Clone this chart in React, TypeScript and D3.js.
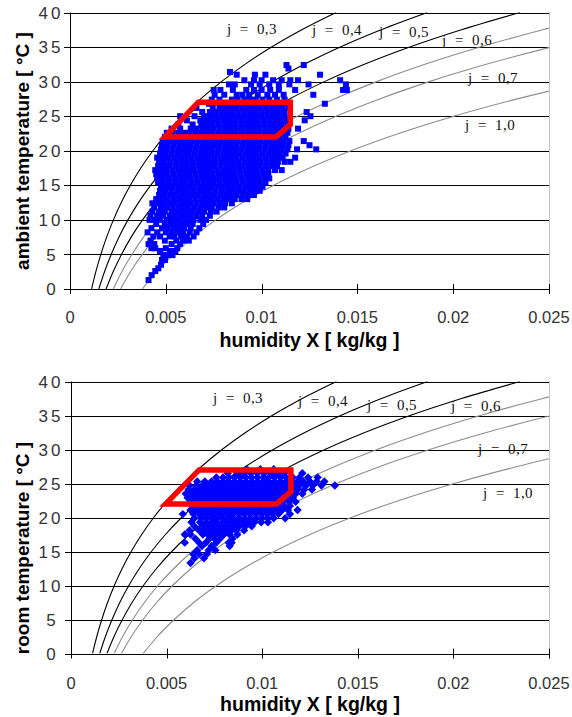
import React from 'react';
import * as d3 from 'd3';

// ---------- data ----------
const xTicks = [0, 0.005, 0.01, 0.015, 0.02, 0.025];
const xTickLabels = ['0', '0.005', '0.01', '0.015', '0.02', '0.025'];
const yTicks = [0, 5, 10, 15, 20, 25, 30, 35, 40];

// relative humidity curves (phi) and their labels
const phiValues = [0.3, 0.4, 0.5, 0.6, 0.7, 1.0];
const phiLabels = ['j  =  0,3', 'j  =  0,4', 'j  =  0,5', 'j  =  0,6', 'j  =  0,7', 'j  =  1,0'];

// saturation vapour pressure of water [Pa] vs temperature [°C]
const satTemps = [0, 2.5, 5, 7.5, 10, 12.5, 15, 17.5, 20, 22.5, 25, 27.5, 30, 32.5, 35, 37.5, 40];
const satPressures = [611, 731, 872, 1035, 1226, 1447, 1702, 1996, 2333, 2720, 3162, 3665, 4237, 4885, 5618, 6444, 7375];
const airPressure = 101325;

// comfort zone polygon [X g/kg, T °C]
const comfortZone: [number, number][] = [[4.95, 22], [6.7, 27], [11.5, 27], [11.5, 23.8], [10.75, 22]];

// ambient measurements: [T °C, X g/kg values]
const ambientRows: [number, number[]][] = [
  [1.3, [4.10]],
  [2.0, [4.26]],
  [2.6, [4.45]],
  [3.0, [4.61]],
  [3.5, [4.75]],
  [4.2, [4.80, 4.96]],
  [4.9, [4.87, 5.10, 5.35]],
  [5.5, [4.70, 5.22, 5.50]],
  [5.9, [4.25, 4.45, 5.00, 5.60]],
  [6.5, [4.10, 4.40, 5.30, 5.75]],
  [7.0, [4.20, 4.95, 5.55, 5.90, 6.20]],
  [7.6, [4.35, 4.70, 5.20, 5.45, 5.80, 6.10, 6.45]],
  [8.2, [4.05, 4.55, 5.00, 5.30, 5.60, 5.90, 6.25, 6.60]],
  [8.8, [4.25, 4.80, 5.10, 5.40, 5.65, 5.95, 6.30, 6.75]],
  [9.4, [4.50, 4.95, 5.25, 5.50, 5.80, 6.10, 6.40, 6.95]],
  [10.0, [4.15, 4.40, 4.70, 5.05, 5.30, 5.60, 5.85, 6.15, 6.45, 6.80, 7.10]],
  [10.6, [4.20, 4.55, 4.85, 5.20, 5.45, 5.75, 6.00, 6.30, 6.60, 6.90, 7.30]],
  [11.2, [4.30, 4.65, 4.95, 5.30, 5.55, 5.85, 6.10, 6.40, 6.70, 7.00, 7.35, 7.65]],
  [11.8, [4.40, 4.75, 5.05, 5.35, 5.65, 5.90, 6.20, 6.50, 6.80, 7.10, 7.40, 7.75, 8.05]],
  [12.4, [4.30, 4.60, 4.90, 5.20, 5.45, 5.75, 6.05, 6.30, 6.60, 6.90, 7.20, 7.50, 7.80, 8.10, 8.45]],
  [13.0, [4.50, 4.80, 5.10, 5.40, 5.70, 5.95, 6.25, 6.55, 6.85, 7.10, 7.40, 7.70, 8.00, 8.30, 8.60, 8.95, 9.25]],
  [13.6, [4.65, 4.95, 5.25, 5.50, 5.80, 6.10, 6.40, 6.65, 6.95, 7.25, 7.55, 7.85, 8.10, 8.40, 8.70, 9.00, 9.30, 9.60]],
  [14.2, [4.70, 5.00, 5.30, 5.60, 5.90, 6.15, 6.45, 6.75, 7.05, 7.30, 7.60, 7.90, 8.20, 8.50, 8.80, 9.05, 9.35, 9.65, 9.90]],
  [14.8, [4.75, 5.05, 5.35, 5.65, 5.95, 6.25, 6.50, 6.80, 7.10, 7.40, 7.70, 7.95, 8.25, 8.55, 8.85, 9.15, 9.45, 9.75, 10.05]],
  [15.4, [4.60, 4.90, 5.20, 5.50, 5.80, 6.05, 6.35, 6.65, 6.95, 7.25, 7.50, 7.80, 8.10, 8.40, 8.70, 9.00, 9.30, 9.60, 9.90, 10.20]],
  [16.0, [4.55, 4.85, 5.15, 5.45, 5.75, 6.00, 6.30, 6.60, 6.90, 7.20, 7.50, 7.75, 8.05, 8.35, 8.65, 8.95, 9.25, 9.55, 9.85, 10.15, 10.40]],
  [16.6, [4.50, 4.80, 5.10, 5.40, 5.70, 6.00, 6.25, 6.55, 6.85, 7.15, 7.45, 7.75, 8.00, 8.30, 8.60, 8.90, 9.20, 9.50, 9.80, 10.10, 10.35]],
  [17.2, [4.45, 4.75, 5.05, 5.35, 5.65, 5.95, 6.25, 6.50, 6.80, 7.10, 7.40, 7.70, 8.00, 8.25, 8.55, 8.85, 9.15, 9.45, 9.75, 10.05, 10.35, 10.70, 11.05]],
  [17.8, [4.60, 4.90, 5.20, 5.50, 5.80, 6.10, 6.40, 6.70, 6.95, 7.25, 7.55, 7.85, 8.15, 8.45, 8.75, 9.00, 9.30, 9.60, 9.90, 10.20, 10.50, 10.80]],
  [18.4, [4.65, 4.95, 5.25, 5.55, 5.85, 6.15, 6.45, 6.75, 7.05, 7.35, 7.60, 7.90, 8.20, 8.50, 8.80, 9.10, 9.40, 9.70, 9.95, 10.25, 10.55, 10.85, 11.20, 11.50]],
  [19.0, [4.55, 4.85, 5.15, 5.45, 5.75, 6.05, 6.35, 6.65, 6.95, 7.25, 7.55, 7.85, 8.10, 8.40, 8.70, 9.00, 9.30, 9.60, 9.90, 10.20, 10.50, 10.80, 11.10, 11.75]],
  [19.6, [4.70, 5.00, 5.30, 5.60, 5.90, 6.20, 6.50, 6.80, 7.10, 7.40, 7.70, 8.00, 8.30, 8.60, 8.85, 9.15, 9.45, 9.75, 10.05, 10.35, 10.65, 10.95, 11.25]],
  [20.2, [4.75, 5.05, 5.35, 5.65, 5.95, 6.25, 6.55, 6.85, 7.15, 7.45, 7.75, 8.05, 8.35, 8.65, 8.95, 9.25, 9.55, 9.85, 10.15, 10.45, 10.75, 11.05, 11.35, 11.85, 12.85]],
  [20.8, [4.80, 5.10, 5.40, 5.70, 6.00, 6.30, 6.60, 6.90, 7.20, 7.50, 7.80, 8.10, 8.40, 8.70, 9.00, 9.30, 9.60, 9.90, 10.20, 10.50, 10.80, 11.10, 11.40, 12.50]],
  [21.4, [4.85, 5.15, 5.45, 5.75, 6.05, 6.35, 6.65, 6.95, 7.25, 7.55, 7.85, 8.15, 8.45, 8.75, 9.05, 9.35, 9.65, 9.95, 10.25, 10.55, 10.85, 11.15, 11.45, 12.20]],
  [22.0, [4.95, 5.25, 5.55, 5.85, 6.15, 6.45, 6.75, 7.05, 7.35, 7.65, 7.95, 8.25, 8.55, 8.85, 9.15, 9.45, 9.75, 10.05, 10.35, 10.65, 10.95, 11.25]],
  [22.6, [5.05, 5.35, 5.65, 5.95, 6.25, 6.55, 6.85, 7.15, 7.45, 7.75, 8.05, 8.35, 8.65, 8.95, 9.25, 9.55, 9.85, 10.15, 10.45, 10.75, 11.05, 11.35]],
  [23.2, [5.30, 5.75, 6.30, 6.60, 6.90, 7.20, 7.50, 7.80, 8.10, 8.40, 8.70, 9.00, 9.30, 9.60, 9.90, 10.20, 10.50, 10.80, 11.10, 11.40, 11.90]],
  [23.8, [5.65, 6.40, 6.85, 7.15, 7.45, 7.75, 8.05, 8.35, 8.65, 8.95, 9.25, 9.55, 9.85, 10.15, 10.45, 10.75, 11.05, 11.35]],
  [24.4, [6.10, 6.80, 7.10, 7.40, 7.70, 8.00, 8.30, 8.60, 8.90, 9.20, 9.50, 9.80, 10.10, 10.40, 10.70, 11.00, 11.30, 12.25]],
  [25.0, [5.75, 6.50, 7.00, 7.30, 7.60, 7.90, 8.20, 8.50, 8.80, 9.10, 9.40, 9.70, 10.00, 10.30, 10.60, 10.90, 11.20, 12.55]],
  [25.6, [6.90, 7.30, 7.60, 7.90, 8.20, 8.50, 8.80, 9.10, 9.40, 9.70, 10.00, 10.30, 10.60, 10.90, 11.20, 12.35]],
  [26.2, [6.60, 7.45, 7.80, 8.10, 8.40, 8.70, 9.00, 9.30, 9.60, 9.90, 10.20, 10.50, 10.80, 11.10, 11.40]],
  [26.8, [7.25, 7.95, 8.30, 8.60, 8.90, 9.20, 9.50, 9.80, 10.10, 10.40, 10.75, 11.10, 13.30]],
  [27.4, [7.40, 7.80, 8.45, 8.75, 9.10, 9.40, 9.70, 10.05, 10.40, 10.80, 11.20]],
  [28.1, [7.55, 8.05, 8.70, 9.00, 9.35, 9.80, 10.30, 10.70, 11.15, 12.70]],
  [28.8, [7.50, 7.85, 8.50, 9.20, 9.60, 10.00, 10.45, 10.90, 11.75, 14.25, 14.45]],
  [29.6, [8.30, 8.60, 9.45, 9.90, 10.40, 10.90, 11.45, 12.45, 14.40]],
  [30.2, [9.10, 9.60, 10.00, 10.60, 11.05, 11.50, 11.90, 14.10]],
  [31.0, [8.70, 9.65, 10.20, 13.05]],
  [31.4, [8.35]],
  [31.9, [11.40]],
  [32.4, [11.30, 12.20]],
];

// room measurements: [T °C, X g/kg values]
const roomRows: [number, number[]][] = [
  [13.3, [6.25]],
  [14.0, [6.45, 6.95]],
  [14.6, [6.40, 6.70, 7.10]],
  [15.2, [6.60, 7.20, 7.55]],
  [15.8, [6.85, 7.35, 8.30]],
  [16.3, [5.95, 6.70, 7.05, 7.60, 8.25, 8.40]],
  [16.9, [6.50, 7.25, 7.50, 7.80, 8.45]],
  [17.5, [5.95, 6.25, 6.90, 7.15, 7.40, 7.70, 8.00, 8.30, 8.70]],
  [18.1, [6.20, 6.70, 7.00, 7.30, 7.55, 7.85, 8.10, 8.40, 8.65, 9.05]],
  [18.7, [6.45, 6.90, 7.20, 7.45, 7.70, 7.95, 8.25, 8.50, 8.80, 9.10, 9.45]],
  [19.3, [6.30, 6.75, 7.05, 7.35, 7.60, 7.90, 8.15, 8.45, 8.70, 9.00, 9.30, 9.60, 9.95, 10.30]],
  [19.9, [6.45, 6.80, 7.10, 7.40, 7.65, 7.95, 8.25, 8.50, 8.80, 9.10, 9.40, 9.70, 10.00, 10.30, 10.60, 11.20]],
  [20.5, [5.85, 6.40, 6.70, 7.00, 7.30, 7.55, 7.85, 8.15, 8.45, 8.75, 9.05, 9.35, 9.65, 9.95, 10.25, 10.55, 10.85, 11.45]],
  [21.1, [6.25, 6.55, 6.85, 7.15, 7.45, 7.75, 8.05, 8.35, 8.65, 8.95, 9.25, 9.55, 9.85, 10.15, 10.45, 10.75, 11.05, 11.35, 11.85]],
  [21.7, [6.35, 6.65, 6.95, 7.25, 7.55, 7.85, 8.15, 8.45, 8.75, 9.05, 9.35, 9.65, 9.95, 10.25, 10.55, 10.85, 11.15, 11.45]],
  [22.3, [6.30, 6.60, 6.90, 7.20, 7.50, 7.80, 8.10, 8.40, 8.70, 9.00, 9.30, 9.60, 9.90, 10.20, 10.50, 10.80, 11.10, 11.40, 11.75]],
  [22.9, [6.10, 6.45, 6.75, 7.05, 7.35, 7.65, 7.95, 8.25, 8.55, 8.85, 9.15, 9.45, 9.75, 10.05, 10.35, 10.65, 10.95, 11.25, 11.60]],
  [23.5, [6.00, 6.30, 6.60, 6.90, 7.20, 7.50, 7.80, 8.10, 8.40, 8.70, 9.00, 9.30, 9.60, 9.90, 10.20, 10.50, 10.80, 11.10, 11.40, 11.75, 12.10]],
  [24.1, [6.15, 6.45, 6.75, 7.05, 7.35, 7.65, 7.95, 8.25, 8.55, 8.85, 9.15, 9.45, 9.75, 10.05, 10.35, 10.65, 10.95, 11.25, 11.55, 11.85, 12.20, 12.60]],
  [24.7, [6.20, 6.55, 6.85, 7.15, 7.45, 7.75, 8.05, 8.35, 8.65, 8.95, 9.25, 9.55, 9.85, 10.15, 10.45, 10.75, 11.05, 11.35, 11.65, 11.95, 12.30, 12.65, 13.10, 13.80]],
  [25.3, [6.60, 7.00, 7.35, 7.65, 7.95, 8.25, 8.55, 8.85, 9.15, 9.45, 9.75, 10.05, 10.35, 10.65, 10.95, 11.25, 11.55, 11.85, 12.15, 12.50, 12.85, 13.25]],
  [25.9, [7.60, 7.95, 8.25, 8.55, 8.85, 9.15, 9.45, 9.75, 10.05, 10.35, 10.65, 10.95, 11.25, 11.60, 11.95, 12.40, 12.90]],
  [26.5, [8.20, 8.70, 9.05, 9.40, 9.75, 10.10, 10.45, 10.80, 11.15, 12.10]],
  [27.1, [9.20, 9.90, 10.60]],
];

// label anchors for the phi curves, [X g/kg, T °C]
const ambientLabelAnchors: [number, number][] = [[8.19, 36.96], [12.63, 36.75], [16.13, 36.41], [19.42, 35.3], [20.77, 29.76], [20.62, 23.0]];
const roomLabelAnchors: [number, number][] = [[7.43, 36.84], [11.87, 36.4], [15.48, 35.81], [19.87, 35.59], [21.29, 29.34], [21.55, 22.87]];

// ---------- styles ----------
const curveColors = ['#000000', '#000000', '#000000', '#8c8c8c', '#8c8c8c', '#8c8c8c'];
const sansFont = '"Liberation Sans", Arial, sans-serif';
const serifFont = '"Liberation Serif", "Times New Roman", serif';

type PanelProps = {
  left: number; right: number; top: number; bottom: number;
  rows: [number, number[]][];
  marker: 'square' | 'diamond';
  yTitle: string; yTitleCenter: number;
  tickBaseline: number; xTitleBaseline: number;
  labelAnchors: [number, number][];
  id: string;
};

const humidityAt = (phi: number, ps: number) => (0.622 * phi * ps) / (airPressure - phi * ps);

function Panel(p: PanelProps) {
  const x = d3.scaleLinear().domain([0, 0.025]).range([p.left, p.right]);
  const y = d3.scaleLinear().domain([0, 40]).range([p.bottom, p.top]);
  const line = d3.line<[number, number]>().x(d => x(d[0])).y(d => y(d[1])).curve(d3.curveMonotoneX);
  const points: [number, number][] = [];
  p.rows.forEach(([t, xs]) => xs.forEach(v => points.push([v / 1000, t])));
  const diamond = 'M0,-4.2L4.2,0L0,4.2L-4.2,0Z';
  return (
    <g>
      <defs>
        <clipPath id={`clip-${p.id}`}>
          <rect x={p.left} y={p.top} width={p.right - p.left} height={p.bottom - p.top} />
        </clipPath>
      </defs>
      {/* gridlines */}
      {yTicks.map(t => (
        <line key={t} x1={p.left} x2={p.right} y1={Math.round(y(t)) + 0.5} y2={Math.round(y(t)) + 0.5} stroke="#000" strokeWidth={1.2} />
      ))}
      {/* right border */}
      <line x1={p.right + 0.5} x2={p.right + 0.5} y1={p.top} y2={p.bottom} stroke="#888" strokeWidth={1} strokeDasharray="1,1" />
      {/* humidity curves */}
      <g clipPath={`url(#clip-${p.id})`}>
        {phiValues.map((phi, i) => (
          <path key={phi} d={line(satTemps.map((t, k) => [humidityAt(phi, satPressures[k]), t]))!} fill="none" stroke={curveColors[i]} strokeWidth={1.1} />
        ))}
      </g>
      {/* axes */}
      <line x1={p.left + 0.5} x2={p.left + 0.5} y1={p.top} y2={p.bottom} stroke="#000" strokeWidth={1} />
      <line x1={p.left} x2={p.right} y1={Math.round(p.bottom) + 0.5} y2={Math.round(p.bottom) + 0.5} stroke="#000" strokeWidth={1.2} />
      {yTicks.map(t => (
        <g key={t}>
          <line x1={p.left - 6} x2={p.left} y1={Math.round(y(t)) + 0.5} y2={Math.round(y(t)) + 0.5} stroke="#000" />
          <text x={51} y={y(t)} dy="0.36em" textAnchor="middle" fontFamily={sansFont} fontSize={17} letterSpacing={t >= 10 ? 3 : 0} fill="#333">{t}</text>
        </g>
      ))}
      {xTicks.map((t, i) => (
        <g key={t}>
          <line x1={Math.round(x(t)) + 0.5} x2={Math.round(x(t)) + 0.5} y1={p.bottom - 5} y2={p.bottom + 5} stroke="#000" />
          <text x={x(t)} y={p.tickBaseline} textAnchor="middle" fontFamily={sansFont} fontSize={16.5} fill="#333">{xTickLabels[i]}</text>
        </g>
      ))}
      {/* measurements */}
      <g fill="#0000ff">
        {points.map((d, i) =>
          p.marker === 'square'
            ? <rect key={i} x={x(d[0]) - 3} y={y(d[1]) - 3} width={6} height={6} />
            : <path key={i} d={diamond} transform={`translate(${x(d[0])},${y(d[1])})`} />
        )}
      </g>
      {/* comfort zone */}
      <path d={d3.line<[number, number]>().x(d => x(d[0] / 1000)).y(d => y(d[1]))(comfortZone)! + 'Z'} fill="none" stroke="#ff0000" strokeWidth={5.5} strokeLinejoin="miter" />
      {/* phi labels */}
      {phiLabels.map((lbl, i) => (
        <text key={lbl} x={x(p.labelAnchors[i][0] / 1000)} y={y(p.labelAnchors[i][1])} fontFamily={serifFont} fontSize={15} letterSpacing={0.4} fill="#111" style={{ whiteSpace: 'pre' }}>{lbl}</text>
      ))}
      {/* titles */}
      <text x={(p.left + p.right) / 2} y={p.xTitleBaseline} textAnchor="middle" fontFamily={sansFont} fontWeight="bold" fontSize={19.5} fill="#000">humidity X [ kg/kg ]</text>
      <text transform={`translate(29,${p.yTitleCenter}) rotate(-90)`} textAnchor="middle" fontFamily={sansFont} fontWeight="bold" fontSize={19} fill="#000">{p.yTitle}</text>
    </g>
  );
}

export default function App() {
  return (
    <svg width={572} height={717} style={{ position: 'absolute', left: 0, top: 0, background: '#fff' }}>
      <rect width={572} height={717} fill="#fff" />
      <Panel id="a" left={70} right={549} top={12.5} bottom={289} rows={ambientRows} marker="square"
        yTitle="ambient temperature [ °C ]" yTitleCenter={151} tickBaseline={323} xTitleBaseline={347}
        labelAnchors={ambientLabelAnchors} />
      <Panel id="b" left={71} right={549} top={381.5} bottom={653.5} rows={roomRows} marker="diamond"
        yTitle="room temperature [ °C ]" yTitleCenter={548} tickBaseline={689} xTitleBaseline={711}
        labelAnchors={roomLabelAnchors} />
    </svg>
  );
}
